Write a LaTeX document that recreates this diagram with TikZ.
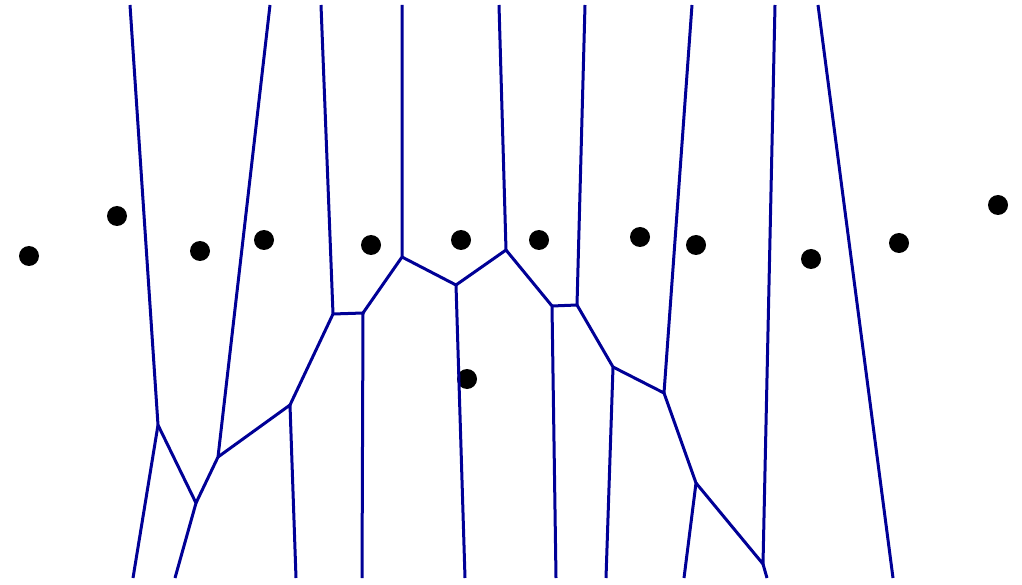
\documentclass[tikz,border=0pt]{standalone}
\begin{document}
\begin{tikzpicture}[x=1pt,y=-1pt,
  edge/.style={draw={rgb,255:red,0;green,0;blue,150},line width=3pt},
  site/.style={circle,fill=black,inner sep=0pt,minimum size=20pt}]
\useasboundingbox (0,0) rectangle (1022,585);
% sites
\node[site] (s1) at (29,256) {};
\node[site] (s2) at (117,216) {};
\node[site] (s3) at (200,251) {};
\node[site] (s4) at (264,240) {};
\node[site] (s5) at (371,245) {};
\node[site] (s6) at (461,240) {};
\node[site] (s7) at (539,240) {};
\node[site] (s8) at (640,237) {};
\node[site] (s9) at (696,245) {};
\node[site] (s10) at (811,259) {};
\node[site] (s11) at (899,243) {};
\node[site] (s12) at (998,205) {};
\node[site] (s13) at (467,379) {};
% vertices
\coordinate (v1) at (158,425);
\coordinate (v2) at (196,503);
\coordinate (v3) at (218,457);
\coordinate (v4) at (290,405);
\coordinate (v5) at (333,314);
\coordinate (v6) at (363,313);
\coordinate (v7) at (402,257);
\coordinate (v8) at (456,285);
\coordinate (v9) at (506,250);
\coordinate (v10) at (552,306);
\coordinate (v11) at (577,305);
\coordinate (v12) at (613,367);
\coordinate (v13) at (664,393);
\coordinate (v14) at (696,483);
\coordinate (v15) at (763,564);
% open ends
\coordinate (t1) at (130,5);
\coordinate (t2) at (270,5);
\coordinate (t3) at (321,5);
\coordinate (t4) at (402,5);
\coordinate (t5) at (499,5);
\coordinate (t6) at (585,5);
\coordinate (t7) at (692,5);
\coordinate (t8) at (775,5);
\coordinate (t9) at (818,5);
\coordinate (b1) at (133,578);
\coordinate (b2) at (175,578);
\coordinate (b3) at (296,578);
\coordinate (b4) at (362,578);
\coordinate (b5) at (465,578);
\coordinate (b6) at (556,578);
\coordinate (b7) at (606,578);
\coordinate (b8) at (684,578);
\coordinate (b9) at (767,578);
\coordinate (b10) at (893,578);
% edges
\draw[edge] (t1) -- (v1) -- (b1);
\draw[edge] (v1) -- (v2) -- (b2);
\draw[edge] (v2) -- (v3) -- (t2);
\draw[edge] (v3) -- (v4) -- (b3);
\draw[edge] (v4) -- (v5) -- (t3);
\draw[edge] (v5) -- (v6) -- (b4);
\draw[edge] (v6) -- (v7) -- (t4);
\draw[edge] (v7) -- (v8) -- (b5);
\draw[edge] (v8) -- (v9) -- (t5);
\draw[edge] (v9) -- (v10) -- (b6);
\draw[edge] (v10) -- (v11) -- (t6);
\draw[edge] (v11) -- (v12) -- (b7);
\draw[edge] (v12) -- (v13) -- (t7);
\draw[edge] (v13) -- (v14) -- (b8);
\draw[edge] (v14) -- (v15) -- (t8);
\draw[edge] (v15) -- (b9);
\draw[edge] (t9) -- (b10);
\end{tikzpicture}
\end{document}
